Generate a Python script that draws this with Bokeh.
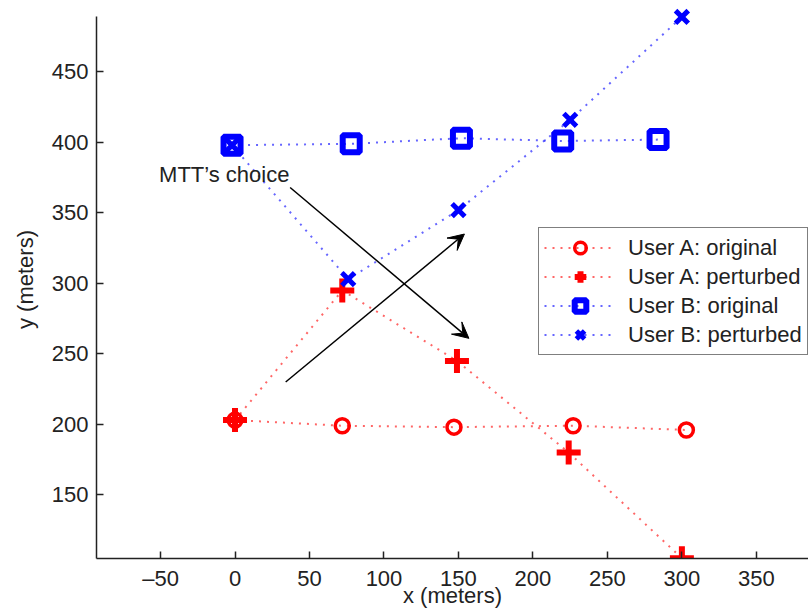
from bokeh.plotting import figure
from bokeh.models import (Range1d, FixedTicker, Legend, LegendItem, Arrow, VeeHead, Label)
from bokeh.embed import file_html
from bokeh.resources import INLINE

# ---- data ----
a_orig_x = [0, 72, 147, 227, 303]
a_orig_y = [203, 199, 198, 199, 196]
a_pert_x = [0, 72, 149, 224, 300]
a_pert_y = [203, 295, 245, 180, 105]
b_orig_x = [-2, 78, 152, 220, 284]
b_orig_y = [398, 399, 403, 401, 402]
b_pert_x = [-2, 76, 150, 225, 300]
b_pert_y = [398, 303, 352, 416, 489]

labels = ["User A: original", "User A: perturbed", "User B: original", "User B: perturbed"]

x_ticks = [-50, 0, 50, 100, 150, 200, 250, 300, 350]
x_tick_labels = {-50: "\u201350"}
y_ticks = [150, 200, 250, 300, 350, 400, 450]

# axes limits of the reference
x_lim = (-93, 385)
y_lim = (104.8, 489.5)

# annotation arrows: (x_start, y_start, x_end, y_end)
arrow1 = (37, 368, 157, 261)
arrow2 = (34, 230, 154, 335)
note_text = "MTT\u2019s choice"
note_pos = (-51, 377)

FONT = "Liberation Sans"
FS = "22px"

p = figure(width=808, height=611, output_backend="svg", toolbar_location=None,
           x_range=Range1d(x_lim[0], x_lim[1]), y_range=Range1d(y_lim[0], 500.7),
           min_border_left=96, min_border_right=0, min_border_top=0, min_border_bottom=53)
p.outline_line_color = None
p.grid.visible = False
p.background_fill_color = "white"

for ax in (p.xaxis[0], p.yaxis[0]):
    ax.axis_line_color = "#222222"
    ax.axis_line_width = 1.5
    ax.major_tick_line_color = "#222222"
    ax.major_tick_line_width = 1.5
    ax.major_tick_in = 7
    ax.major_tick_out = 0
    ax.minor_tick_line_color = None
    ax.major_label_text_font = FONT
    ax.major_label_text_font_size = FS
    ax.major_label_text_color = "#222222"
    ax.axis_label_text_font = FONT
    ax.axis_label_text_font_size = FS
    ax.axis_label_text_font_style = "normal"
    ax.axis_label_text_color = "#222222"

p.xaxis.ticker = FixedTicker(ticks=x_ticks)
p.xaxis.major_label_overrides = x_tick_labels
p.xaxis.axis_label = "x (meters)"
p.xaxis.major_label_standoff = 7
p.xaxis.axis_label_standoff = -11
p.yaxis.ticker = FixedTicker(ticks=y_ticks)
p.yaxis.bounds = y_lim
p.yaxis.axis_label = "y (meters)"
p.yaxis.major_label_standoff = 8
p.yaxis.axis_label_standoff = 11

RED = "#ff0000"
BLUE = "#0000ff"
DASH = "2 6"

l1 = p.line(a_orig_x, a_orig_y, line_color=RED, line_width=2, line_dash=DASH, line_alpha=0.6)
s1 = p.scatter(a_orig_x, a_orig_y, marker="circle", size=14, line_color=RED, line_width=3.5, fill_color=None)
l2 = p.line(a_pert_x, a_pert_y, line_color=RED, line_width=2, line_dash=DASH, line_alpha=0.6)
s2 = p.scatter(a_pert_x, a_pert_y, marker="cross", size=24, line_color=RED, line_width=6)
l3 = p.line(b_orig_x, b_orig_y, line_color=BLUE, line_width=2, line_dash=DASH, line_alpha=0.6)
s3 = p.scatter(b_orig_x, b_orig_y, marker="square", size=17, line_color=BLUE, line_width=6, fill_color=None)
l4 = p.line(b_pert_x, b_pert_y, line_color=BLUE, line_width=2, line_dash=DASH, line_alpha=0.6)
s4 = p.scatter(b_pert_x, b_pert_y, marker="x", size=18, line_color=BLUE, line_width=5)

for (x0, y0, x1, y1) in (arrow1, arrow2):
    p.add_layout(Arrow(x_start=x0, y_start=y0, x_end=x1, y_end=y1, line_color="black", line_width=1.5,
                       end=VeeHead(size=16, fill_color="black", line_color="black", line_width=1)))

p.add_layout(Label(x=note_pos[0], y=note_pos[1], text=note_text, text_font=FONT, text_font_size=FS,
                   text_baseline="middle", text_align="left", text_color="#222222"))

items = [LegendItem(label=lab, renderers=[l, s]) for lab, l, s in
         zip(labels, [l1, l2, l3, l4], [s1, s2, s3, s4])]
legend = Legend(items=items, location=(442, 203), padding=5, spacing=0,
                glyph_width=72, glyph_height=29, label_height=29, label_standoff=12,
                label_text_font=FONT, label_text_font_size=FS, label_text_color="#222222",
                border_line_color="black", border_line_width=1, background_fill_color="white",
                background_fill_alpha=1.0)
p.add_layout(legend, "center")

open("out.html", "w").write(file_html(p, INLINE))
